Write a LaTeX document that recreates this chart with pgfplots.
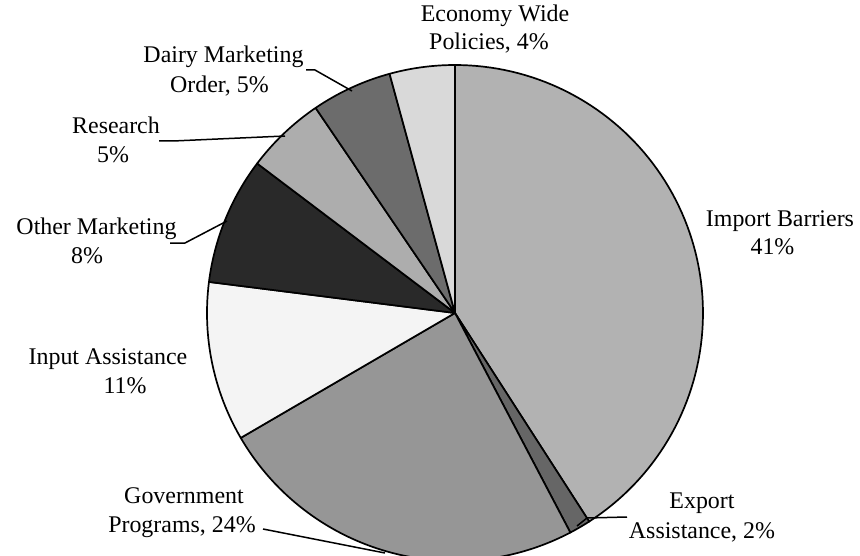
\documentclass[border=0pt]{standalone}
\usepackage{fontspec}
\setmainfont{Liberation Serif}
\usepackage{pgfplots}
\pgfplotsset{compat=1.18}
\definecolor{cImp}{HTML}{B2B2B2}
\definecolor{cExp}{HTML}{666666}
\definecolor{cGov}{HTML}{969696}
\definecolor{cInp}{HTML}{F4F4F4}
\definecolor{cOth}{HTML}{292929}
\definecolor{cRes}{HTML}{ADADAD}
\definecolor{cDai}{HTML}{6C6C6C}
\definecolor{cEco}{HTML}{D9D9D9}
% slice: start (cumulative %), end (cumulative %), colour
\newcommand{\slice}[3]{%
  \addplot[draw=black, line width=1.7bp, line join=round, fill=#3,
    domain={90-3.6*#2}:{90-3.6*#1}, samples=90]
    ({248*cos(x)},{248*sin(x)}) -- (axis cs:0,0) -- cycle;
}
\tikzset{lab/.style={font=\fontsize{24}{29}\selectfont, inner sep=0pt, text height=0.7em, text depth=0.2em, yshift=-4.5bp}}
\begin{document}
\begin{tikzpicture}
\useasboundingbox (0,0) rectangle (860bp,556bp);
\begin{axis}[hide axis, clip=false, x=1bp, y=1bp,
  xmin=-455, xmax=405, ymin=-243, ymax=313]
% Import Barriers 40.9, Export 1.4, Government 24.3, Input 10.4,
% Other Marketing 8.3, Research 5.2, Dairy 5.25, Economy Wide 4.25
\slice{0}{40.9}{cImp}
\slice{40.9}{42.3}{cExp}
\slice{42.3}{66.6}{cGov}
\slice{66.6}{77.0}{cInp}
\slice{77.0}{85.3}{cOth}
\slice{85.3}{90.5}{cRes}
\slice{90.5}{95.75}{cDai}
\slice{95.75}{100}{cEco}
% leader lines
\addplot[black, line width=1.5bp, mark=none] coordinates {(-149,243) (-140,243) (-103,222)};
\addplot[black, line width=1.5bp, mark=none] coordinates {(-296,172) (-282,172) (-170,177)};
\addplot[black, line width=1.5bp, mark=none] coordinates {(-285,70) (-270,70) (-228,92)};
\addplot[black, line width=1.5bp, mark=none] coordinates {(-192,-216) (-70,-240)};
\addplot[black, line width=1.5bp, mark=none] coordinates {(122,-213) (132,-205) (172,-204)};
% labels
\node[lab] at (axis cs:40,298) {Economy Wide};
\node[lab] at (axis cs:34,270) {Policies, 4\%};
\node[lab] at (axis cs:-231.5,257) {Dairy Marketing};
\node[lab] at (axis cs:-235.5,227) {Order, 5\%};
\node[lab] at (axis cs:-339,186) {Research};
\node[lab] at (axis cs:-342,157) {5\%};
\node[lab] at (axis cs:-358.5,85) {Other Marketing};
\node[lab] at (axis cs:-368,56) {8\%};
\node[lab] at (axis cs:-347,-45) {Input Assistance};
\node[lab] at (axis cs:-330,-74) {11\%};
\node[lab] at (axis cs:-271,-184) {Government};
\node[lab] at (axis cs:-273,-213) {Programs, 24\%};
\node[lab] at (axis cs:325,93) {Import Barriers};
\node[lab] at (axis cs:317.5,65) {41\%};
\node[lab] at (axis cs:247,-189) {Export};
\node[lab] at (axis cs:247,-219) {Assistance, 2\%};
\end{axis}
\end{tikzpicture}
\end{document}
